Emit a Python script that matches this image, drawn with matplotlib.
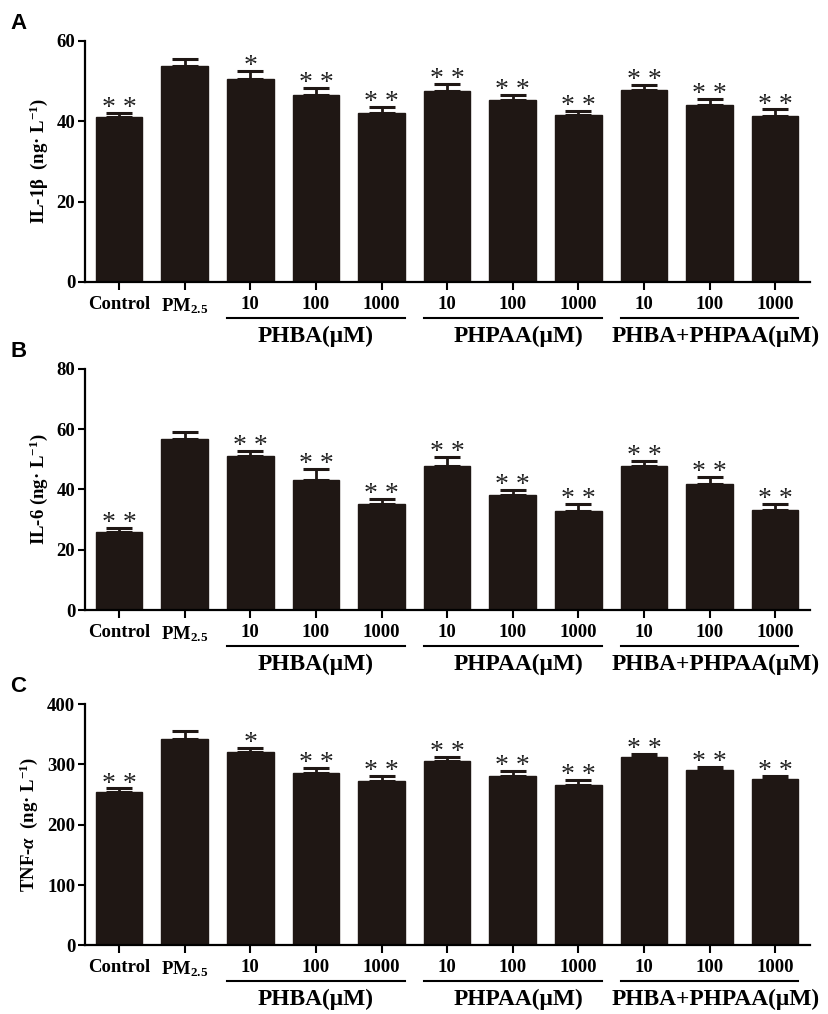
import matplotlib
matplotlib.use("Agg")
import matplotlib.pyplot as plt
import numpy as np

plt.rcParams["font.family"] = ["Liberation Serif", "DejaVu Serif"]
plt.rcParams["font.weight"] = "bold"
plt.rcParams["mathtext.fontset"] = "custom"
plt.rcParams["mathtext.rm"] = "Liberation Serif:bold"
plt.rcParams["mathtext.bf"] = "Liberation Serif:bold"
plt.rcParams["mathtext.it"] = "Liberation Serif:bold:italic"

# data
tick_labels = ["Control", "PM$_{2.5}$", "10", "100", "1000",
               "10", "100", "1000", "10", "100", "1000"]
groups = ["PHBA(μM)", "PHPAA(μM)", "PHBA+PHPAA(μM)"]

il1b_mean = [41.0, 53.6, 50.5, 46.6, 41.9, 47.4, 45.2, 41.4, 47.8, 44.1, 41.3]
il1b_err = [1.0, 1.9, 1.9, 1.7, 1.6, 1.9, 1.4, 1.1, 1.3, 1.5, 1.6]
il1b_sig = ["**", "", "*", "**", "**", "**", "**", "**", "**", "**", "**"]

il6_mean = [25.7, 56.7, 50.9, 43.2, 35.1, 47.8, 38.0, 32.7, 47.6, 41.8, 33.0]
il6_err = [1.4, 2.2, 1.8, 3.5, 1.8, 2.9, 1.9, 2.4, 1.9, 2.2, 2.1]
il6_sig = ["**", "", "**", "**", "**", "**", "**", "**", "**", "**", "**"]

tnf_mean = [254.7, 342.6, 321.0, 286.2, 273.0, 305.0, 280.8, 265.8, 312.3, 290.2, 276.3]
tnf_err = [5.3, 13.3, 6.7, 8.3, 7.8, 7.8, 8.8, 8.3, 4.4, 5.0, 4.5]
tnf_sig = ["**", "", "*", "**", "**", "**", "**", "**", "**", "**", "**"]

panels = [
    ("A", il1b_mean, il1b_err, il1b_sig, 60, [0, 20, 40, 60], "IL-1β  (ng· L$^{-1}$)"),
    ("B", il6_mean, il6_err, il6_sig, 80, [0, 20, 40, 60, 80], "IL-6 (ng· L$^{-1}$)"),
    ("C", tnf_mean, tnf_err, tnf_sig, 400, [0, 100, 200, 300, 400], "TNF-$α$  (ng· L$^{-1}$)"),
]

bar_color = "#1f1714"
fig = plt.figure(figsize=(8.29, 10.14), dpi=100)
bottoms = [0.7219, 0.3984, 0.0677]
x = np.arange(len(tick_labels))
bw = 0.71
label_shift = [0.0, 0.09, 0.09]

for (letter, mean, err, sig, ymax, yt, ylab), b in zip(panels, bottoms):
    ax = fig.add_axes([0.1025, b, 0.8745, 0.238])
    ax.bar(x, mean, width=bw, color=bar_color, edgecolor=bar_color, zorder=2)
    ax.errorbar(x, mean, yerr=[np.zeros(len(err)), err], fmt="none",
                ecolor=bar_color, elinewidth=2, capsize=9.5, capthick=2.2, zorder=3)
    for xi, m, e, s in zip(x, mean, err, sig):
        if s:
            ax.annotate(" ".join(s), (xi, m + e), xytext=(0, -1.5), textcoords="offset points",
                        ha="center", va="baseline", fontsize=20, fontweight="normal",
                        color="#222222")
    ax.set_xlim(-0.52, 10.53)
    ax.set_ylim(0, ymax)
    ax.set_yticks(yt)
    ax.set_xticks(x)
    ax.set_xticklabels(tick_labels, fontsize=13.5, fontweight="bold")
    ax.tick_params(axis="y", labelsize=13.5, length=5, width=1.5, pad=2)
    ax.tick_params(axis="x", length=6, width=1.5, pad=4)
    for sp in ["top", "right"]:
        ax.spines[sp].set_visible(False)
    for sp in ["left", "bottom"]:
        ax.spines[sp].set_linewidth(1.6)
    ax.set_ylabel(ylab, fontsize=13.5, fontweight="bold", labelpad=5)

    trans = ax.get_xaxis_transform()
    for g, name in enumerate(groups):
        x0 = 2 + 3 * g - bw / 2
        x1 = 4 + 3 * g + bw / 2
        ax.plot([x0, x1], [-0.149, -0.149], color="black", lw=1.5,
                transform=trans, clip_on=False)
        ax.text((x0 + x1) / 2 + label_shift[g], -0.225, name, transform=trans,
                ha="center", va="center", fontsize=16.8, fontweight="bold")

    fig.text(0.022, b + 0.238 + 0.017, letter, fontsize=16, fontweight="bold",
             family="Liberation Sans", ha="center", va="center")

fig.savefig("out.png", dpi=100)
